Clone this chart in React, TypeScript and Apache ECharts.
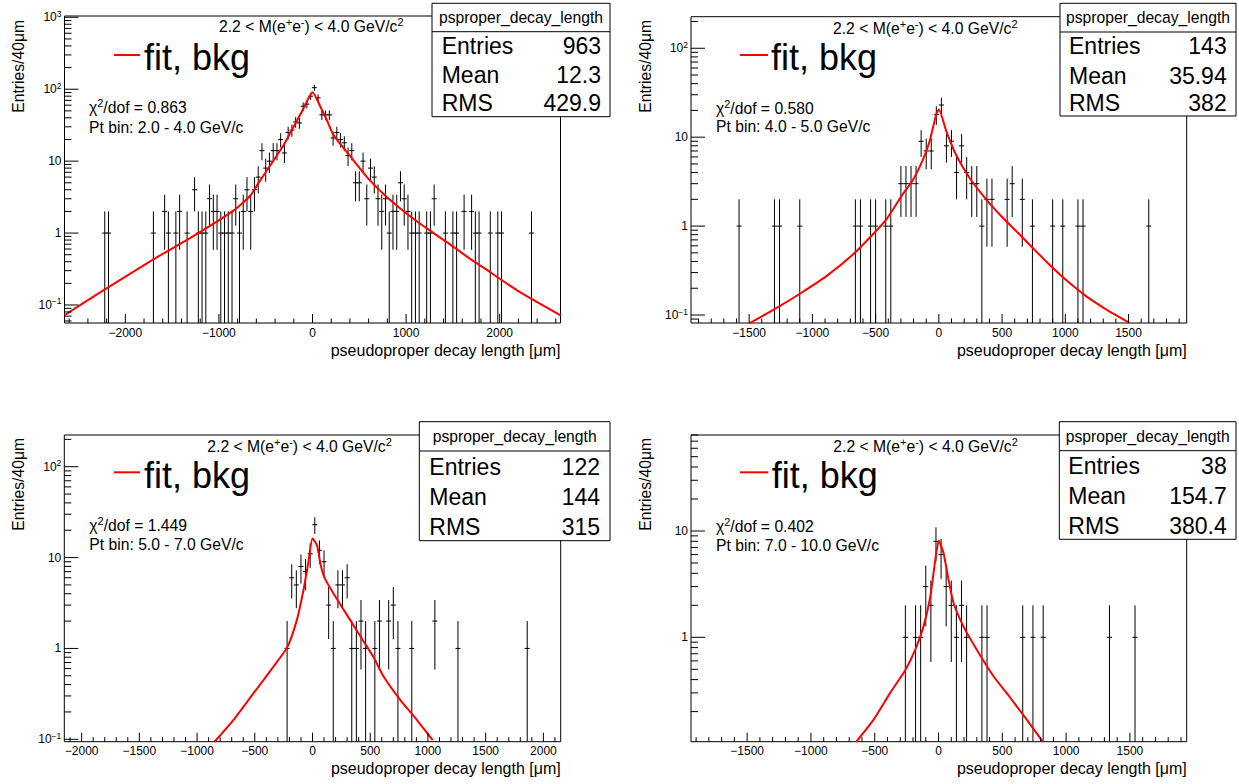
import React, { useEffect, useRef } from "react";
import * as echarts from "echarts";

const FONT = '"Liberation Sans", Arial, Helvetica, sans-serif';

// ---------------- shared texts ----------------
const statTitle = "psproper_decay_length";
const statLabels = ["Entries", "Mean", "RMS"];
const legendLabel = "fit, bkg";
const xTitle = "pseudoproper decay length [μm]";
const yTitle = "Entries/40μm";
const binWidth = 40;

// ---------------- panel 1 : Pt 2.0 - 4.0 GeV/c ----------------
const p1Hist = [
  [-2220, 1], [-2180, 1], [-1700, 1], [-1580, 2], [-1540, 1], [-1460, 1], [-1420, 2], [-1340, 1],
  [-1260, 4], [-1220, 1], [-1180, 1], [-1140, 1], [-1100, 3], [-1060, 2], [-1020, 2], [-980, 1],
  [-940, 1], [-900, 1], [-860, 1], [-820, 3], [-780, 1], [-740, 2], [-700, 4], [-660, 2], [-620, 4],
  [-580, 6], [-540, 14], [-500, 8], [-460, 10], [-420, 14], [-380, 14], [-340, 20], [-300, 13],
  [-260, 25], [-220, 27], [-180, 35], [-140, 34], [-100, 58], [-60, 62], [-20, 80], [20, 105],
  [60, 76], [100, 44], [140, 44], [180, 44], [220, 21], [260, 25], [300, 20], [340, 18], [380, 12],
  [420, 14], [460, 5], [500, 5], [540, 10], [580, 3], [620, 8], [660, 6], [700, 3], [740, 2],
  [780, 3], [820, 1], [860, 2], [900, 2], [940, 5], [980, 3], [1020, 2], [1060, 1], [1100, 1],
  [1140, 1], [1220, 1], [1260, 1], [1300, 3], [1420, 1], [1500, 1], [1540, 1], [1620, 2],
  [1700, 2], [1740, 1], [1780, 1], [1900, 1], [1980, 1], [2020, 1], [2340, 1],
];
const p1Fit = [
  [-2650, 0.072], [-2235, 0.16], [-1718, 0.417], [-1220, 1.0], [-845, 2.05], [-666, 3.3],
  [-559, 5.4], [-452, 8.7], [-310, 16.6], [-203, 30], [-96, 54], [-40, 76], [0, 91], [82, 58],
  [154, 37], [225, 23], [403, 11.7], [582, 6], [759, 3.5], [938, 2.2], [1117, 1.45], [1294, 1.0],
  [1473, 0.69], [1651, 0.47], [1829, 0.33], [2186, 0.16], [2650, 0.072],
];
const p1XTicks = [-2000, -1000, 0, 1000, 2000];
const p1Stats = ["963", "12.3", "429.9"];
const p1Chi2 = "0.863";
const p1PtBin = "2.0 - 4.0";

// ---------------- panel 2 : Pt 4.0 - 5.0 GeV/c ----------------
const p2Hist = [
  [-1580, 1], [-1300, 1], [-1260, 1], [-1100, 1], [-660, 1], [-620, 1], [-540, 1], [-500, 1],
  [-420, 1], [-380, 1], [-300, 3], [-260, 3], [-220, 3], [-180, 3], [-140, 9], [-100, 7], [-60, 7],
  [-20, 18], [20, 23], [60, 8], [100, 9], [140, 4], [180, 8], [220, 4], [260, 3], [300, 3],
  [340, 1], [380, 2], [420, 2], [540, 2], [580, 3], [660, 2], [740, 1], [900, 1], [980, 1],
  [1100, 1], [1140, 1], [1660, 1],
];
const p2Fit = [
  [-1495, 0.081], [-1258, 0.126], [-1087, 0.178], [-889, 0.274], [-679, 0.48], [-521, 0.81],
  [-415, 1.19], [-284, 2.3], [-205, 3.3], [-126, 5.6], [-73, 9], [-21, 18], [0, 20.5], [58, 11.8],
  [137, 6.3], [242, 3.5], [374, 2.0], [506, 1.24], [637, 0.81], [769, 0.52], [900, 0.34],
  [1032, 0.23], [1164, 0.163], [1322, 0.116], [1506, 0.082],
];
const p2XTicks = [-1500, -1000, -500, 0, 500, 1000, 1500];
const p2Stats = ["143", "35.94", "382"];
const p2Chi2 = "0.580";
const p2PtBin = "4.0 - 5.0";

// ---------------- panel 3 : Pt 5.0 - 7.0 GeV/c ----------------
const p3Hist = [
  [-220, 1], [-180, 6], [-140, 5], [-100, 8], [-60, 7], [-20, 11], [20, 23], [60, 12], [100, 9],
  [140, 3], [180, 1], [220, 5], [260, 5], [300, 6], [340, 1], [380, 1], [420, 2], [460, 1],
  [540, 1], [580, 2], [660, 2], [700, 3], [740, 1], [860, 1], [1060, 2], [1260, 1], [1860, 1],
];
const p3Fit = [
  [-850, 0.094], [-685, 0.163], [-512, 0.32], [-338, 0.63], [-217, 1.04], [-136, 2.05],
  [-78, 4.4], [-35, 9.0], [0, 16.2], [40, 13.5], [73, 8], [110, 5.8], [211, 3.5],
  [327, 2.05], [442, 1.2], [529, 0.8], [616, 0.49], [761, 0.27], [905, 0.163], [1041, 0.098],
];
const p3XTicks = [-2000, -1500, -1000, -500, 0, 500, 1000, 1500, 2000];
const p3Stats = ["122", "144", "315"];
const p3Chi2 = "1.449";
const p3PtBin = "5.0 - 7.0";

// ---------------- panel 4 : Pt 7.0 - 10.0 GeV/c ----------------
const p4Hist = [
  [-260, 1], [-180, 1], [-140, 1], [-100, 3], [-60, 2], [-20, 8], [20, 6], [60, 3], [100, 2],
  [140, 1], [180, 2], [220, 1], [340, 1], [380, 1], [660, 1], [740, 1], [820, 1], [1340, 1],
  [1540, 1],
];
const p4Fit = [
  [-645, 0.104], [-510, 0.167], [-379, 0.3], [-261, 0.49], [-183, 0.76], [-118, 1.26], [-65, 2.4],
  [-26, 5.3], [2, 8.1], [39, 6.2], [78, 3.5], [118, 2.1], [196, 1.26], [301, 0.76], [431, 0.43],
  [562, 0.27], [693, 0.167], [798, 0.112], [819, 0.104],
];
const p4XTicks = [-1500, -1000, -500, 0, 500, 1000, 1500];
const p4Stats = ["38", "154.7", "380.4"];
const p4Chi2 = "0.402";
const p4PtBin = "7.0 - 10.0";

// ---------------- layout (pixels) ----------------
const layouts = [
  {
    grid: [64.5, 16, 496, 307], x: [-2650, 2650], y: [0.0562, 1042], xMinor: 200,
    mass: [219, 26], leg: [114, 140, 55], legText: [144, 57], chi: [89, 107, 127],
    box: [432, 3.3, 178, 113.4], boxLine: 31.7, statY: [46, 75, 103.3], statL: 441.7, statR: 601,
    ytitle: [18.3, 20], xtitle: [560.5, 350], labY: 333,
  },
  {
    grid: [691, 16.7, 495.7, 306.3], x: [-1960, 1960], y: [0.0813, 226.5], xMinor: 100,
    mass: [833, 28], leg: [740, 768, 55], legText: [771, 57], chi: [716, 108.3, 126.7],
    box: [1060, 3.3, 176, 112.7], boxLine: 32, statY: [46, 76, 103], statL: 1069, statR: 1226.7,
    ytitle: [645, 20], xtitle: [1186.7, 350], labY: 333,
  },
  {
    grid: [64.3, 435, 496.4, 306.7], x: [-2150, 2150], y: [0.0941, 223.4], xMinor: 100,
    mass: [207.3, 446.5], leg: [114, 140, 472.3], legText: [144, 475], chi: [89.3, 525, 544],
    box: [419.3, 421.7, 190.7, 119], boxLine: 451, statY: [466.7, 496.7, 526.7], statL: 429.3, statR: 600,
    ytitle: [18.3, 438], xtitle: [560.7, 768], labY: 751,
  },
  {
    grid: [691, 435, 495.7, 306.7], x: [-1940, 1945], y: [0.1042, 80], xMinor: 100,
    mass: [833.3, 446.5], leg: [740, 768.3, 472.3], legText: [771.7, 475], chi: [716, 526, 545],
    box: [1059.3, 421.7, 176.7, 117.6], boxLine: 450.7, statY: [466, 496, 526], statL: 1068.3, statR: 1226.7,
    ytitle: [645, 438], xtitle: [1186.7, 768], labY: 751,
  },
];

const panels = [
  { hist: p1Hist, fit: p1Fit, xt: p1XTicks, stats: p1Stats, chi2: p1Chi2, pt: p1PtBin },
  { hist: p2Hist, fit: p2Fit, xt: p2XTicks, stats: p2Stats, chi2: p2Chi2, pt: p2PtBin },
  { hist: p3Hist, fit: p3Fit, xt: p3XTicks, stats: p3Stats, chi2: p3Chi2, pt: p3PtBin },
  { hist: p4Hist, fit: p4Fit, xt: p4XTicks, stats: p4Stats, chi2: p4Chi2, pt: p4PtBin },
];

function rich(base: number, sup: number) {
  return {
    b: { fontSize: base, fontFamily: FONT, fill: "#000", color: "#000", lineHeight: Math.round(base * 1.3) },
    s: { fontSize: sup, fontFamily: FONT, fill: "#000", color: "#000", lineHeight: sup, verticalAlign: "top" },
  };
}

function yLabel(v: number) {
  const n = Math.round(Math.log10(v));
  if (n === 0) return "{b|1}";
  if (n === 1) return "{b|10}";
  return "{b|10}{s|" + (n < 0 ? "\u2212" + -n : String(n)) + "}";
}

function xLabel(v: number) {
  return v < 0 ? "\u2212" + -v : String(v);
}

function buildTicks(l: any, xMajor: number[]) {
  const out: number[][] = [];
  xMajor.forEach((v) => out.push([v, 1, 0]));
  const step = l.xMinor;
  for (let v = Math.ceil(l.x[0] / step) * step; v < l.x[1]; v += step) {
    if (v > l.x[0] && !xMajor.some((m) => Math.abs(m - v) < 1e-6)) out.push([v, 1, 1]);
  }
  const lo = Math.floor(Math.log10(l.y[0]));
  const hi = Math.ceil(Math.log10(l.y[1]));
  for (let d = lo; d <= hi; d++) {
    for (let k = 1; k <= 9; k++) {
      const v = k * Math.pow(10, d);
      if (v >= l.y[0] && v <= l.y[1]) out.push([0, v, k === 1 ? 2 : 3]);
    }
  }
  return out;
}

function histItem(params: any, api: any) {
  const x = api.value(0);
  const y = api.value(1);
  const cs = params.coordSys;
  const c = api.coord([x, y]);
  const l = api.coord([x - binWidth / 2, y])[0];
  const r = api.coord([x + binWidth / 2, y])[0];
  const hw = Math.max((r - l) / 2, 2.5);
  const e = Math.sqrt(y);
  const top = Math.max(api.coord([x, y + e])[1], cs.y);
  const bot = y - e > 1e-9 ? Math.min(api.coord([x, y - e])[1], cs.y + cs.height) : cs.y + cs.height;
  const st = { stroke: "#000", lineWidth: 1 };
  return {
    type: "group",
    children: [
      { type: "line", shape: { x1: c[0] - hw, y1: c[1], x2: c[0] + hw, y2: c[1] }, style: st },
      { type: "line", shape: { x1: c[0], y1: top, x2: c[0], y2: bot }, style: st },
    ],
  };
}

function tickItemFactory(labY: number) {
  return (params: any, api: any) => {
    const cs = params.coordSys;
    const kind = api.value(2);
    const st = { stroke: "#000", lineWidth: 1 };
    if (kind < 2) {
      const v = api.value(0);
      const px = api.coord([v, api.value(1)])[0];
      const bottom = cs.y + cs.height;
      const len = kind === 0 ? 9 : 4.5;
      const children: any[] = [
        { type: "line", shape: { x1: px, y1: bottom, x2: px, y2: bottom - len }, style: st },
      ];
      if (kind === 0) {
        children.push({
          type: "text",
          x: px,
          y: labY,
          style: { text: xLabel(v), fontSize: 12, fontFamily: FONT, fill: "#000", align: "center", verticalAlign: "middle" },
        });
      }
      return { type: "group", children };
    }
    const v = api.value(1);
    const py = api.coord([api.value(0), v])[1];
    const len = kind === 2 ? 14 : 7;
    const children: any[] = [
      { type: "line", shape: { x1: cs.x, y1: py, x2: cs.x + len, y2: py }, style: st },
    ];
    if (kind === 2) {
      children.push({
        type: "text",
        x: cs.x - 3,
        y: py,
        style: { text: yLabel(v), rich: rich(12, 8.5), fontSize: 12, fontFamily: FONT, fill: "#000", align: "right", verticalAlign: "middle" },
      });
    }
    return { type: "group", children };
  };
}

function txt(x: number, y: number, text: string, size: number, align: string, extra: any = {}) {
  return {
    type: "text",
    x,
    y,
    z: 20,
    silent: true,
    ...extra,
    style: { text, fontSize: size, fontFamily: FONT, fill: "#000", align, verticalAlign: "middle", ...(extra.style || {}) },
  };
}

function buildOption() {
  const grid: any[] = [];
  const xAxis: any[] = [];
  const yAxis: any[] = [];
  const series: any[] = [];
  const graphic: any[] = [];
  const hidden = {
    axisLine: { show: false },
    axisTick: { show: false },
    axisLabel: { show: false },
    splitLine: { show: false },
    minorTick: { show: false },
    minorSplitLine: { show: false },
  };

  layouts.forEach((l, i) => {
    const p = panels[i];
    grid.push({
      left: l.grid[0], top: l.grid[1], width: l.grid[2], height: l.grid[3],
      show: true, borderColor: "#000", borderWidth: 1, backgroundColor: "transparent",
      containLabel: false, outerBoundsMode: "none",
    });
    xAxis.push({ type: "value", gridIndex: i, min: l.x[0], max: l.x[1], ...hidden });
    yAxis.push({ type: "log", logBase: 10, gridIndex: i, min: l.y[0], max: l.y[1], ...hidden });

    series.push({
      type: "custom", xAxisIndex: i, yAxisIndex: i, data: p.hist, renderItem: histItem,
      z: 2, silent: true, clip: false,
    });
    series.push({
      type: "line", xAxisIndex: i, yAxisIndex: i, data: p.fit, showSymbol: false, symbol: "none",
      smooth: 0.2, clip: true, silent: true, z: 3,
      lineStyle: { color: "#ff0000", width: 2, join: "round" },
    });
    series.push({
      type: "custom", xAxisIndex: i, yAxisIndex: i, data: buildTicks(l, p.xt),
      renderItem: tickItemFactory(l.labY), z: 4, silent: true, clip: false,
    });

    // mass window text
    graphic.push(
      txt(l.mass[0], l.mass[1], "{b|2.2 < M(e}{s|+}{b|e}{s|-}{b|) < 4.0 GeV/c}{s|2}", 15.7, "left", {
        style: { rich: rich(15.7, 11) },
      })
    );
    // legend
    graphic.push({
      type: "line", z: 20, silent: true,
      shape: { x1: l.leg[0], y1: l.leg[2], x2: l.leg[1], y2: l.leg[2] },
      style: { stroke: "#ff0000", lineWidth: 2 },
    });
    graphic.push(txt(l.legText[0], l.legText[1], legendLabel, 36, "left"));
    // chi2 + pt bin
    graphic.push(
      txt(l.chi[0], l.chi[1], "{b|χ}{s|2}{b|/dof = " + p.chi2 + "}", 15.7, "left", {
        style: { rich: rich(15.7, 11) },
      })
    );
    graphic.push(txt(l.chi[0], l.chi[2], "Pt bin: " + p.pt + " GeV/c", 15.7, "left"));
    // axis titles
    graphic.push(txt(l.ytitle[0], l.ytitle[1], yTitle, 15.7, "right", { rotation: Math.PI / 2 }));
    graphic.push(txt(l.xtitle[0], l.xtitle[1], xTitle, 16, "right"));
    // stats box
    graphic.push({
      type: "rect", z: 15, silent: true,
      shape: { x: l.box[0], y: l.box[1], width: l.box[2], height: l.box[3] },
      style: { fill: "#fff", stroke: "#000", lineWidth: 1 },
    });
    graphic.push({
      type: "line", z: 16, silent: true,
      shape: { x1: l.box[0], y1: l.boxLine, x2: l.box[0] + l.box[2], y2: l.boxLine },
      style: { stroke: "#000", lineWidth: 1 },
    });
    graphic.push(txt(l.box[0] + l.box[2] / 2, (l.box[1] + l.boxLine) / 2, statTitle, 15.7, "center"));
    statLabels.forEach((s, k) => {
      graphic.push(txt(l.statL, l.statY[k], s, 23, "left"));
      graphic.push(txt(l.statR, l.statY[k], p.stats[k], 23, "right"));
    });
  });

  return { animation: false, backgroundColor: "#fff", grid, xAxis, yAxis, series, graphic };
}

export default function App() {
  const ref = useRef<HTMLDivElement>(null);
  useEffect(() => {
    if (!ref.current) return;
    const chart = echarts.init(ref.current, null, { renderer: "svg" });
    chart.setOption(buildOption() as any);
    return () => chart.dispose();
  }, []);
  return (
    <div
      ref={ref}
      style={{ position: "fixed", left: 0, top: 0, width: 1239, height: 784, background: "#fff" }}
    />
  );
}
